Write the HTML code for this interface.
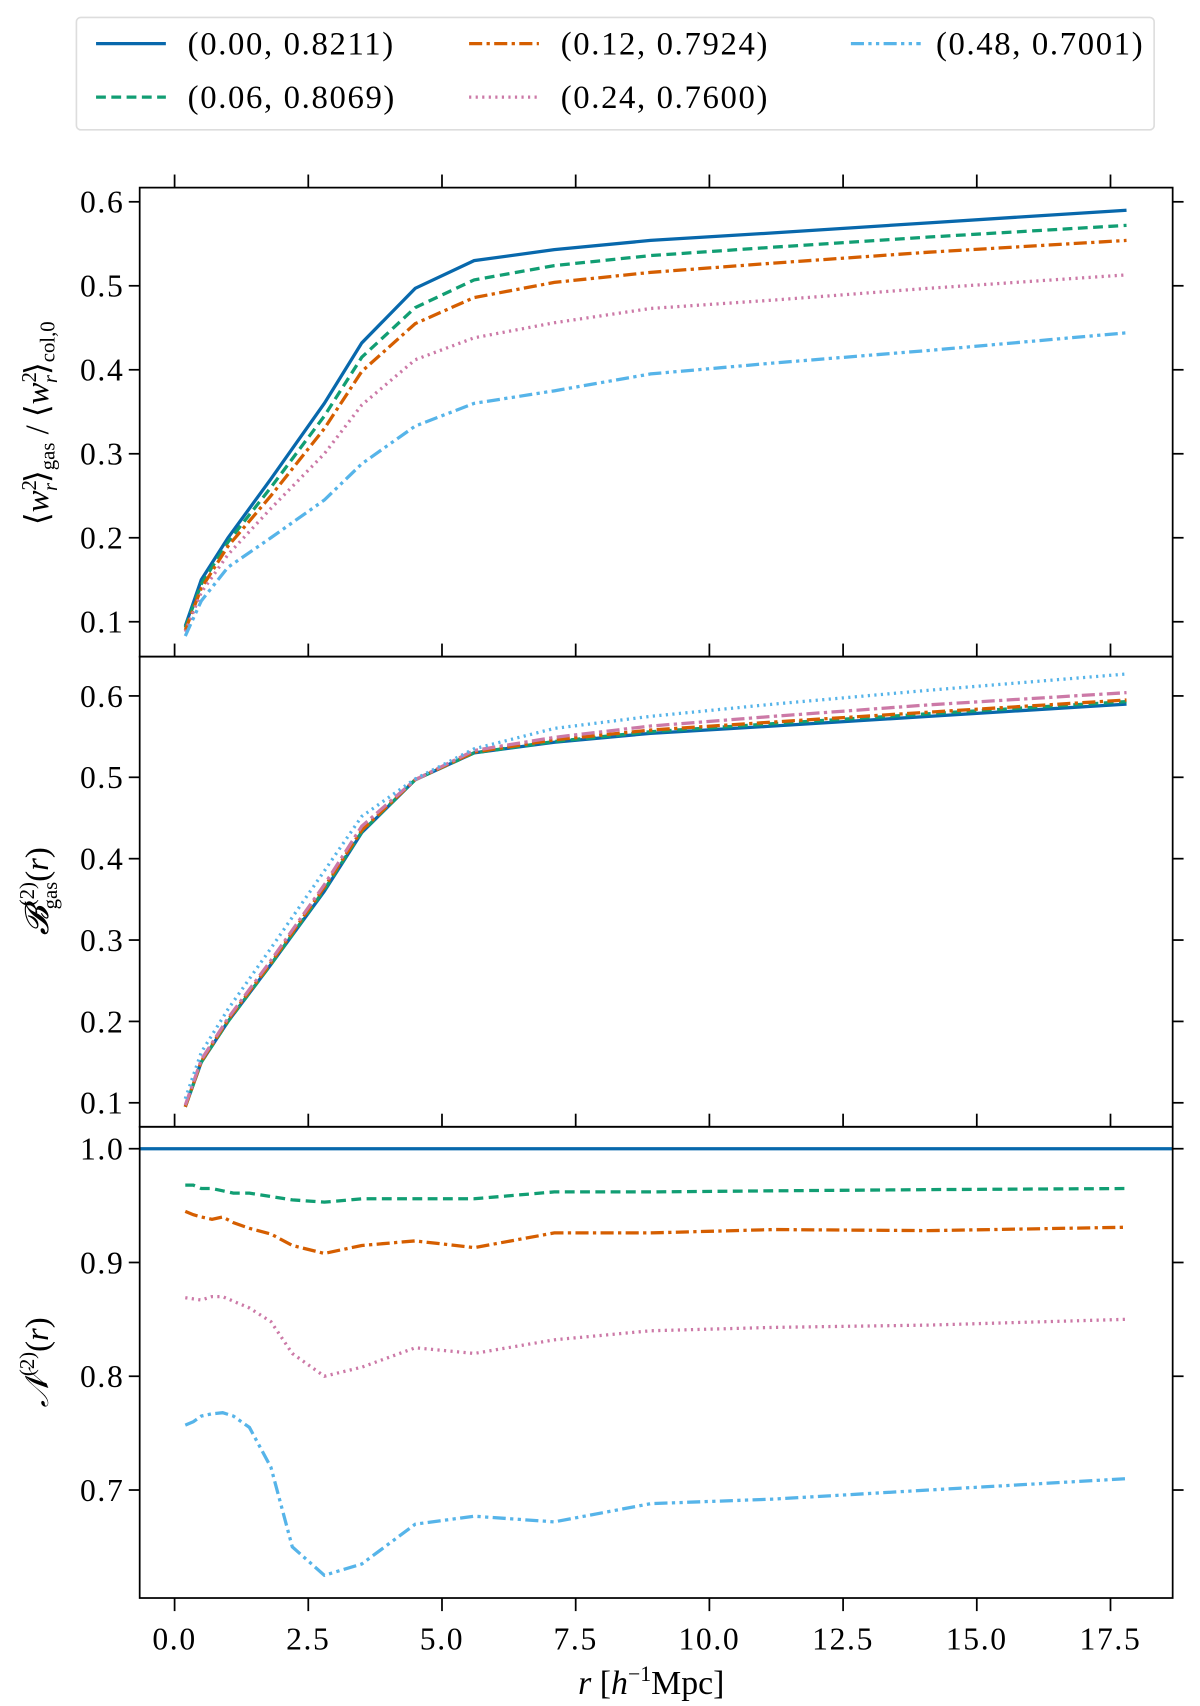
<!DOCTYPE html>
<html><head><meta charset="utf-8"><style>
html,body{margin:0;padding:0;background:#fff}
svg{display:block}
text{font-family:"Liberation Serif","DejaVu Serif",serif;fill:#000}
</style></head><body>
<svg id="chart" width="1200" height="1706" viewBox="0 0 1100 1564" xmlns="http://www.w3.org/2000/svg">
<g id="legend"></g>
<g id="plots"></g>
</svg>
<script>
const rCoarse = [0.2,0.5,1.0,1.8,2.8,3.5,4.5,5.6,7.1,8.9,11.2,14.1,17.8];
const rFine = [0.2,0.35,0.5,0.7,0.9,1.1,1.4,1.8,2.2,2.8,3.5,4.5,5.6,7.1,8.9,11.2,14.1,17.8];
const seriesLabels = ["(0.00,  0.8211)","(0.06,  0.8069)","(0.12,  0.7924)","(0.24,  0.7600)","(0.48,  0.7001)"];
const ratio0 = [0.095,0.15,0.2,0.27,0.36,0.432,0.497,0.53,0.543,0.554,0.563,0.575,0.59];
const ratio1 = [0.093,0.145,0.195,0.26,0.345,0.415,0.474,0.507,0.524,0.536,0.546,0.558,0.572];
const ratio2 = [0.09,0.14,0.19,0.25,0.33,0.398,0.455,0.486,0.504,0.516,0.527,0.54,0.554];
const ratio3 = [0.088,0.135,0.18,0.235,0.3,0.358,0.412,0.438,0.456,0.473,0.483,0.497,0.513];
const ratio4 = [0.083,0.125,0.165,0.2,0.245,0.288,0.333,0.36,0.375,0.395,0.408,0.423,0.444];
const bias0 = [0.095,0.15,0.2,0.27,0.36,0.432,0.497,0.53,0.543,0.554,0.563,0.575,0.59];
const bias1 = [0.095,0.15,0.2,0.27,0.362,0.433,0.497,0.53,0.544,0.556,0.566,0.578,0.593];
const bias2 = [0.095,0.151,0.202,0.272,0.365,0.435,0.497,0.531,0.546,0.558,0.568,0.58,0.595];
const bias3 = [0.097,0.153,0.204,0.275,0.368,0.44,0.497,0.533,0.549,0.563,0.575,0.589,0.604];
const bias4 = [0.105,0.162,0.215,0.29,0.385,0.452,0.498,0.535,0.56,0.575,0.59,0.607,0.627];
const norm0 = [1,1,1,1,1,1,1,1,1,1,1,1,1,1,1,1,1,1];
const norm1 = [0.968,0.968,0.965,0.965,0.963,0.961,0.961,0.958,0.955,0.953,0.956,0.956,0.956,0.962,0.962,0.963,0.964,0.965];
const norm2 = [0.945,0.942,0.94,0.938,0.94,0.935,0.93,0.925,0.915,0.908,0.915,0.919,0.913,0.926,0.926,0.929,0.928,0.931];
const norm3 = [0.869,0.868,0.867,0.870,0.870,0.866,0.86,0.848,0.82,0.80,0.808,0.825,0.82,0.832,0.84,0.843,0.845,0.85];
const norm4 = [0.757,0.76,0.765,0.767,0.768,0.765,0.755,0.72,0.65,0.625,0.635,0.67,0.677,0.672,0.688,0.692,0.7,0.71];
const xTicks = ["0.0","2.5","5.0","7.5","10.0","12.5","15.0","17.5"];
const yTicks1 = ["0.1","0.2","0.3","0.4","0.5","0.6"];
const yTicks2 = ["0.1","0.2","0.3","0.4","0.5","0.6"];
const yTicks3 = ["0.7","0.8","0.9","1.0"];

const NS="http://www.w3.org/2000/svg";
const colors=["#0868ac","#119e73","#d55e00","#cc79a7","#56b4e9"];
const dashes=["", "9,5", "12,4,3,4", "2,4", "12,4,3,4,3,4"];
const dashes2=["", "9,5", "12,4,3,4", "12,4,3,4", "2,4"];
const L=128,R=1075;
const x=v=>160+v*(1018-160)/17.5;
const panels=[
 {top:172,bot:602,y:v=>570-(v-0.1)*770,ticks:yTicks1,data:[ratio0,ratio1,ratio2,ratio3,ratio4],xs:rCoarse,name:"ratio",ds:dashes},
 {top:602,bot:1033,y:v=>1011-(v-0.1)*746,ticks:yTicks2,data:[bias0,bias1,bias2,bias3,bias4],xs:rCoarse,name:"bias",ds:dashes2},
 {top:1033,bot:1465,y:v=>1366-(v-0.7)*1043,ticks:yTicks3,data:[norm0,norm1,norm2,norm3,norm4],xs:rFine,name:"norm",ds:dashes}
];
function mk(tag,attrs,parent){const e=document.createElementNS(NS,tag);for(const k in attrs)e.setAttribute(k,attrs[k]);parent.appendChild(e);return e;}
const plots=document.getElementById('plots');
panels.forEach((p,pi)=>{
 const g=mk('g',{},plots);
 
 
 const cp=mk('clipPath',{id:'cp'+pi},g);
 mk('rect',{x:L,y:p.top,width:R-L,height:p.bot-p.top},cp);
 p.data.forEach((arr,si)=>{
  let d=arr.map((v,i)=>(i?'L':'M')+x(p.xs[i]).toFixed(1)+','+p.y(v).toFixed(1)).join(' ');
  if(si===0 && pi===2){d='M'+L+','+p.y(arr[0])+' L'+R+','+p.y(arr[0]);}
  const path=mk('path',{d:d,fill:'none',stroke:colors[si],'stroke-width':3,'clip-path':'url(#cp'+pi+')'},g);
  if(p.ds[si])path.setAttribute('stroke-dasharray',p.ds[si]);
  
  
 });
 const fr=mk('rect',{x:L,y:p.top,width:R-L,height:p.bot-p.top,fill:'none',stroke:'#000','stroke-width':1.6},g);
 
 
 p.ticks.forEach(t=>{
  const yy=p.y(parseFloat(t));
  mk('line',{x1:L-10,x2:L,y1:yy,y2:yy,stroke:'#000','stroke-width':1.6},g);
  mk('line',{x1:R,x2:R+10,y1:yy,y2:yy,stroke:'#000','stroke-width':1.6},g);
  const tx=mk('text',{x:L-14,y:yy+10,'font-size':29,'letter-spacing':1.5,'text-anchor':'end'},g);
  tx.textContent=t;
  
  
 });
 xTicks.forEach(t=>{
  const xx=x(parseFloat(t));
  mk('line',{x1:xx,x2:xx,y1:p.top-12,y2:p.top,stroke:'#000','stroke-width':1.6},g);
  if(pi===2){
   mk('line',{x1:xx,x2:xx,y1:p.bot,y2:p.bot+12,stroke:'#000','stroke-width':1.6},g);
   const tx=mk('text',{x:xx,y:p.bot+47,'font-size':29,'letter-spacing':1.5,'text-anchor':'middle'},g);
   tx.textContent=t;
   
   
  }
 });
});
function ylabel(html,cy,name){
 const t=mk('text',{x:0,y:0,'font-size':30,'text-anchor':'middle',transform:'translate(44,'+cy+') rotate(-90)'},plots);
 t.innerHTML=html;
 
 
}
ylabel('⟨<tspan font-style="italic">w</tspan><tspan font-size="19" dy="-11">2</tspan><tspan font-size="19" dx="-10" dy="19" font-style="italic">r</tspan><tspan dy="-8">⟩</tspan><tspan font-size="19" dy="6">gas</tspan><tspan dy="-6"> / ⟨</tspan><tspan font-style="italic">w</tspan><tspan font-size="19" dy="-11">2</tspan><tspan font-size="19" dx="-10" dy="19" font-style="italic">r</tspan><tspan dy="-8">⟩</tspan><tspan font-size="19" dy="6">col,0</tspan>',388,'y-axis-title-ratio');
ylabel('<tspan font-style="italic">𝓑</tspan><tspan font-size="19" dy="-13">(2)</tspan><tspan font-size="19" dx="-25" dy="21">gas</tspan><tspan dy="-8">(</tspan><tspan font-style="italic">r</tspan>)',817,'y-axis-title-bias');
ylabel('<tspan font-style="italic">𝒩</tspan><tspan font-size="19" dy="-13">(2)</tspan><tspan dy="13">(</tspan><tspan font-style="italic">r</tspan>)',1249,'y-axis-title-norm');
const xl=mk('text',{x:597,y:1553,'font-size':31,'text-anchor':'middle'},plots);
xl.innerHTML='<tspan font-style="italic">r</tspan>  [<tspan font-style="italic">h</tspan><tspan font-size="20" dy="-12">−1</tspan><tspan dy="12">Mpc]</tspan>';


const lg=document.getElementById('legend');
const lb=mk('rect',{x:70,y:16,width:988,height:103,rx:4,fill:'#fff',stroke:'#ddd','stroke-width':1.5},lg);


const pos=[[80,40],[80,89],[422,40],[422,89],[772,40]];
seriesLabels.forEach((s,i)=>{
 const [lx,ly]=pos[i];
 const ln=mk('line',{x1:lx+8,x2:lx+72,y1:ly,y2:ly,stroke:colors[i],'stroke-width':3},lg);
 if(dashes[i])ln.setAttribute('stroke-dasharray',dashes[i]);
 
 
 const t=mk('text',{x:lx+(i===4?86:92),y:ly+10,'font-size':30,'letter-spacing':1.5,'xml:space':'preserve'},lg);
 t.textContent=s;
 
 
});
</script>
</body></html>
